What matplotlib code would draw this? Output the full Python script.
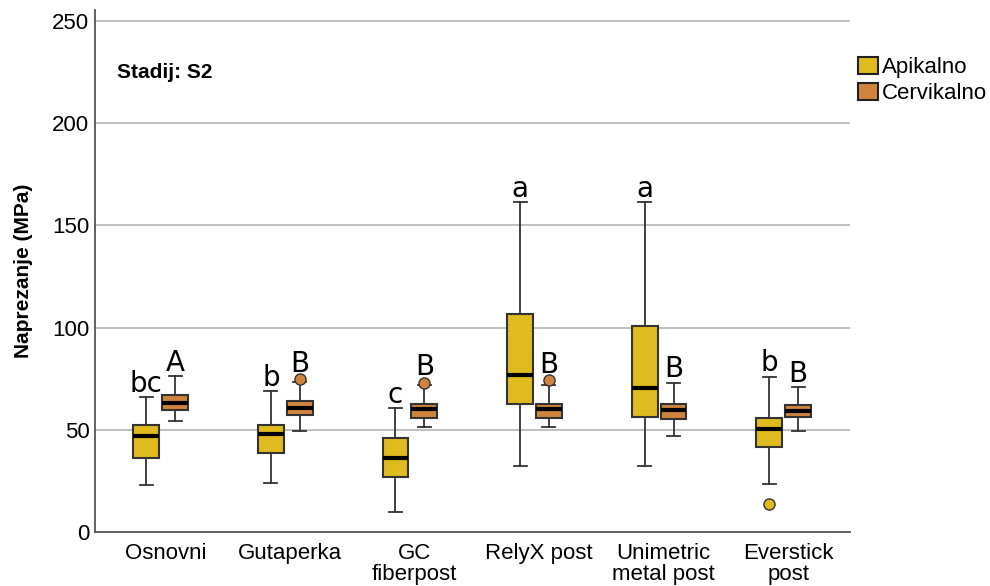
import matplotlib
matplotlib.use("Agg")
import matplotlib.pyplot as plt
from matplotlib.patches import Patch

plt.rcParams['font.family'] = ['Liberation Sans', 'DejaVu Sans']

groups = ["Osnovni", "Gutaperka", "GC\nfiberpost", "RelyX post", "Unimetric\nmetal post", "Everstick\npost"]
series = ["Apikalno", "Cervikalno"]

# Apikalno stats
api_low = [22.8, 23.8, 9.8, 32.3, 32.3, 23.5]
api_q1 = [36.2, 38.8, 26.8, 62.8, 56.1, 41.4]
api_med = [47.1, 48.1, 36.1, 76.8, 70.3, 50.2]
api_q3 = [52.3, 52.5, 45.8, 106.5, 100.9, 55.9]
api_high = [66.2, 69.1, 60.8, 161.3, 161.3, 76.0]
api_out = [[], [], [], [], [], [13.7]]
api_letters = ["bc", "b", "c", "a", "a", "b"]

# Cervikalno stats
cer_low = [54.3, 49.6, 51.2, 51.5, 47.0, 49.4]
cer_q1 = [59.7, 57.4, 55.9, 55.9, 55.3, 56.1]
cer_med = [63.1, 60.5, 60.2, 60.0, 59.7, 59.2]
cer_q3 = [66.9, 64.1, 62.5, 62.8, 62.5, 62.0]
cer_high = [76.2, 73.5, 72.0, 72.0, 73.1, 71.1]
cer_out = [[], [74.9], [73.1], [74.5], [], []]
cer_letters = ["A", "B", "B", "B", "B", "B"]

colors = ["#DFBB1F", "#CF843E"]
offsets = [-0.152, 0.08]
width = 0.208

fig = plt.figure(figsize=(9.9, 5.86), dpi=100)
ax = fig.add_axes([0.096, 0.0922, 0.763, 0.891])

data = [
    (api_low, api_q1, api_med, api_q3, api_high, api_out, api_letters),
    (cer_low, cer_q1, cer_med, cer_q3, cer_high, cer_out, cer_letters),
]

for k, (lo, q1, med, q3, hi, out, letters) in enumerate(data):
    stats = []
    for i in range(len(groups)):
        stats.append(dict(whislo=lo[i], q1=q1[i], med=med[i], q3=q3[i], whishi=hi[i], fliers=out[i]))
    pos = [i + 1 + offsets[k] for i in range(len(groups))]
    ax.bxp(stats, positions=pos, widths=width, capwidths=width / 2, patch_artist=True,
           showfliers=True,
           boxprops=dict(facecolor=colors[k], edgecolor="#333333", linewidth=1.5),
           medianprops=dict(color="black", linewidth=3),
           whiskerprops=dict(color="#333333", linewidth=1.3),
           capprops=dict(color="#333333", linewidth=1.3),
           flierprops=dict(marker="o", markerfacecolor=colors[k], markeredgecolor="#333333",
                           markersize=8, markeredgewidth=1),
           zorder=3)
    for i in range(len(groups)):
        top = max([hi[i]] + out[i])
        pad = 3.5 if out[i] and max(out[i]) >= hi[i] else 2.5
        ax.text(pos[i], top + pad, letters[i], ha="center", va="baseline",
                fontsize=20, family="DejaVu Sans", zorder=4)

ax.set_xlim(0.436, 6.5)
ax.set_ylim(0, 255.4)
ax.set_xticks(range(1, len(groups) + 1))
ax.set_xticklabels(groups, fontsize=16, linespacing=1.0)
ax.set_yticks([0, 50, 100, 150, 200, 250])
ax.tick_params(axis="y", labelsize=16, length=0, pad=4)
ax.tick_params(axis="x", length=0, pad=8)
ax.grid(axis="y", color="#bbbbbb", linewidth=1.3, zorder=0)
ax.set_axisbelow(True)
for s in ["top", "right"]:
    ax.spines[s].set_visible(False)
for s in ["left", "bottom"]:
    ax.spines[s].set_color("#555555")
    ax.spines[s].set_linewidth(1.3)

ax.set_ylabel("Naprezanje (MPa)", fontsize=15, fontweight="bold", labelpad=14)
ax.text(0.61, 224.6, "Stadij: S2", fontsize=15, fontweight="bold", va="center", ha="left")

handles = [Patch(facecolor=c, edgecolor="#222222", linewidth=1.5) for c in colors]
fig.legend(handles, series, loc="upper left", bbox_to_anchor=(0.862, 0.91), frameon=False,
           fontsize=16, handlelength=0.9, handleheight=0.8, handletextpad=0.2,
           labelspacing=0.2, borderpad=0.2, borderaxespad=0)

fig.savefig("out.png", dpi=100)
